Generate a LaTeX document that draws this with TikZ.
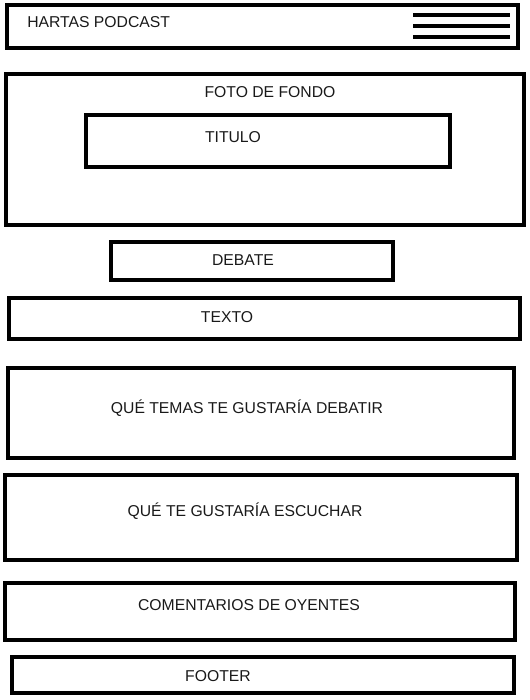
\documentclass[tikz,border=0pt]{standalone}
\usepackage{fontspec}
\setmainfont{Liberation Sans}
\usetikzlibrary{positioning}

\begin{document}
\begin{tikzpicture}[x=0.75pt,y=-0.75pt,
    box/.style={draw=black,line width=2.3pt},
    label/.style={font=\fontsize{11.8}{14}\selectfont,text=black!90,
        inner sep=0pt},
    burger/.style={line width=2.3pt}]
    \useasboundingbox (0,0) rectangle (530,700);

    % cabecera
    \draw[box] (7,5) rectangle (518,48);
    \node[label,anchor=west] (head) at (27,22) {HARTAS PODCAST};
    \foreach \y in {15,26,37}
        \draw[burger] (413,\y) -- (510,\y);

    % foto de fondo y titulo
    \draw[box] (6,74) rectangle (524,225);
    \node[label] (foto) at (270,92) {FOTO DE FONDO};
    \draw[box] (86,115) rectangle (450,167);
    \node[label] (titulo) at (233,137) {TITULO};

    \draw[box] (111,242) rectangle (393,280);
    \node[label] (debate) at (243,260) {DEBATE};

    \draw[box] (9,298) rectangle (520,339);
    \node[label] (texto) at (227,317) {TEXTO};

    \draw[box] (8,368) rectangle (514,458);
    \node[label] (temas) at (247,408) {QUÉ TEMAS TE GUSTARÍA DEBATIR};

    \draw[box] (5,475) rectangle (517,560);
    \node[label] (escuchar) at (245,511) {QUÉ TE GUSTARÍA ESCUCHAR};

    \draw[box] (5,583) rectangle (515,640);
    \node[label] (oyentes) at (249,605) {COMENTARIOS DE OYENTES};

    \draw[box] (12,657) rectangle (514,693);
    \node[label] (footer) at (218,676) {FOOTER};

\end{tikzpicture}
\end{document}
